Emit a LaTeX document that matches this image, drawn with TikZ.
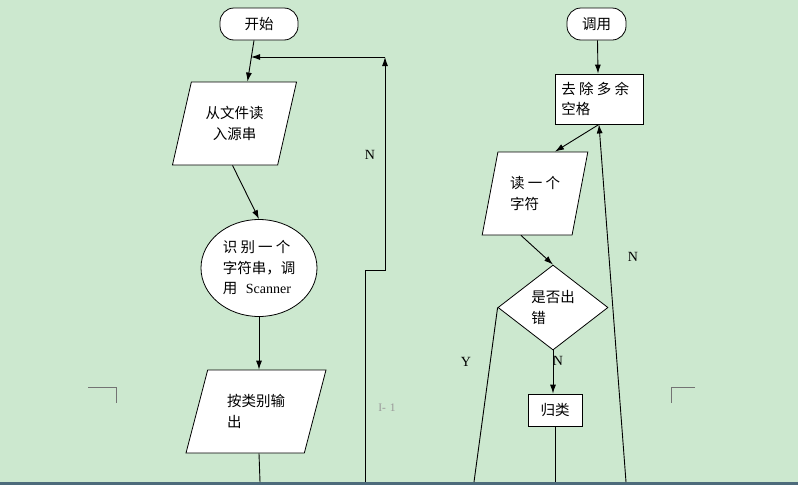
\documentclass[tikz,border=0pt]{standalone}
\usepackage{fontspec}
\setmainfont{Noto Sans CJK SC}
\newfontfamily\latinserif{Liberation Serif}
\usetikzlibrary{shapes.geometric,arrows.meta}
\definecolor{bg}{HTML}{CCE8CF}
\definecolor{bar}{HTML}{4D6B7B}
\begin{document}
\begin{tikzpicture}[x=1pt,y=-1pt,
  every node/.style={font=\fontsize{14.5}{20.5}\selectfont, inner sep=0pt},
  box/.style={draw=black, fill=white, line width=0.8pt},
  term/.style={box, rounded corners=14pt},
  para/.style={box, trapezium, trapezium stretches=true},
  line/.style={draw=black, line width=0.9pt},
  arr/.style={line, -{Latex[length=9pt,width=6pt]}},
  lbl/.style={font=\latinserif\fontsize{14}{16}\selectfont},
  corner/.style={draw=black!55, line width=0.8pt}]
\fill[bg] (0,0) rectangle (798,485);
\fill[bar] (0,482) rectangle (798,485);
\useasboundingbox (0,0) rectangle (798,485);

% left column
\node[term, minimum width=78pt, minimum height=32pt] (start) at (259,24) {开始};
\node[para, minimum width=125pt, minimum height=83pt,
  trapezium left angle=69.5, trapezium right angle=110.5, align=center] (p1) at (234.5,123.5) {从文件读\\入源串};
\node[box, ellipse, minimum width=116pt, minimum height=97pt, align=left] (ell) at (259,268)
  {识 别 一 个\\字符串，调\\用\hspace{0.6em}{\latinserif\fontsize{14}{16}\selectfont Scanner}};
\node[para, minimum width=140pt, minimum height=83pt,
  trapezium left angle=69, trapezium right angle=111, align=left] (p2) at (256,411.5) {按类别输\\出\hspace{2.9em}\null};

\coordinate (join) at (251,57);
\coordinate (looptop) at (385,57);
\coordinate (loopstep) at (385,270);
\coordinate (loopstepb) at (365,270);
\coordinate (loopbot) at (365,482);
\coordinate (p2bot) at (260,482);

\draw[arr] ([xshift=-5pt]start.south) -- ([xshift=13pt]p1.north);
\draw[arr] (looptop) -- (join);
\draw[arr] (loopbot) -- (loopstepb) -- (loopstep) -- (looptop);
\draw[arr] ([xshift=-2pt]p1.south) -- (ell.north);
\draw[arr] (ell.south) -- (ell.south |- p2.north);
\draw[line] (ell.south |- p2.south) -- (p2bot);

\node[lbl] (n1) at (370,155) {N};
\node[font=\latinserif\fontsize{11.5}{13}\selectfont, text=black!40] (pg) at (387,408) {I{-}\hspace{0.35em}1};

% right column
\node[term, minimum width=59pt, minimum height=32pt] (call) at (596.5,24) {调用};
\node[box, minimum width=88pt, minimum height=50pt, align=left] (trim) at (599,99) {去 除 多 余\\空格\hspace{3.2em}\null};
\node[para, minimum width=106pt, minimum height=83pt,
  trapezium left angle=72.6, trapezium right angle=107.4, align=left] (p3) at (535,193.5) {读 一 个\\字符};
\node[box, diamond, minimum width=110pt, minimum height=85pt, align=left] (dia) at (553,307.5) {是否出\\错};
\node[box, minimum width=54pt, minimum height=32pt] (cls) at (555,410) {归类};

\coordinate (ybot) at (474,482);
\coordinate (clsbot) at (555,482);
\coordinate (nbot) at (626,482);

\draw[arr] ([xshift=1pt]call.south) -- ([xshift=-1pt]trim.north);
\draw[arr] (trim.south) -- ([xshift=20pt]p3.north);
\draw[arr] ([xshift=-14pt]p3.south) -- (dia.north);
\draw[arr] (dia.south) -- (dia.south |- cls.north);
\draw[line] (cls.south) -- (clsbot);
\draw[line] (dia.west) -- (ybot);
\draw[arr] (nbot) -- (trim.south);

\node[lbl] (n2) at (633,257) {N};
\node[lbl] (ylab) at (466,362) {Y};
\node[lbl] (n3) at (558,361) {N};

% corner marks
\draw[corner] (88,387) -- (116,387) -- (116,403);
\draw[corner] (695,387) -- (671,387) -- (671,403);
\end{tikzpicture}
\end{document}
